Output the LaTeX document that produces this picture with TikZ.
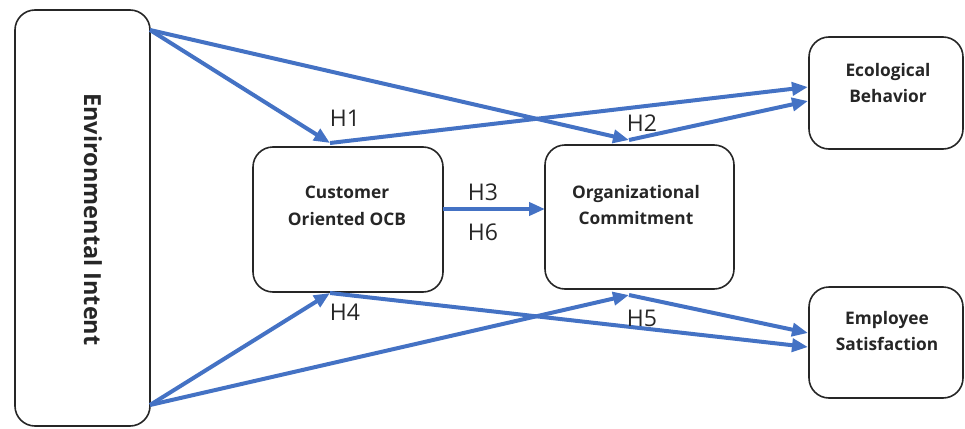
\documentclass[tikz,border=0pt]{standalone}
\usepackage{fontspec}
\setmainfont{Open Sans}
\usetikzlibrary{arrows.meta}
\definecolor{arrowblue}{RGB}{68,114,196}
\definecolor{boxline}{RGB}{38,38,38}
\begin{document}
\begin{tikzpicture}[x=1pt,y=-1pt,
  box/.style={draw=boxline,line width=1.6pt,rounded corners=20pt,fill=white,inner sep=0pt},
  boxtext/.style={font=\fontsize{17.3}{26.5}\selectfont\bfseries,align=center,inner sep=0pt,text=black!85},
  hyp/.style={font=\fontsize{23}{24}\selectfont,inner sep=0pt,text=black!85},
  link/.style={draw=arrowblue,line width=4pt,-{Triangle[length=16pt,width=13pt]}}]
\useasboundingbox (0,0) rectangle (965,428);
% boxes
\node[box,minimum width=135pt,minimum height=416pt] (ei) at (82.5,218) {};
\node[box,minimum width=190pt,minimum height=145pt] (ocb) at (348,219.5) {};
\node[box,minimum width=189pt,minimum height=144pt] (oc) at (639.5,217) {};
\node[box,minimum width=154pt,minimum height=112pt] (eb) at (886,93) {};
\node[box,minimum width=154pt,minimum height=111pt] (es) at (886,342.5) {};
% texts
\node[font=\fontsize{23.5}{26}\selectfont\bfseries,rotate=-90,inner sep=0pt,text=black!85] (eit) at (93,219.5) {Environmental Intent};
\node[boxtext] (ocbt) at (347,206) {Customer\\Oriented OCB};
\node[boxtext] (oct) at (636,205) {Organizational\\Commitment};
\node[boxtext] (ebt) at (888,83) {Ecological\\Behavior};
\node[boxtext] (est) at (887,331) {Employee\\Satisfaction};
% ports
\coordinate (eiT) at (150,30);
\coordinate (eiB) at (150,405);
\coordinate (ocbT) at (330,143);
\coordinate (ocbB) at (330,293);
\coordinate (ocbR) at (443,209);
\coordinate (ocT) at (629,140);
\coordinate (ocB) at (629,295);
\coordinate (ocL) at (545,209);
\coordinate (ebA) at (808,87);
\coordinate (ebB) at (808,101);
\coordinate (esA) at (808,333);
\coordinate (esB) at (808,347);
% arrows
\draw[link] (eiT) -- (ocbT);
\draw[link] (eiT) -- (ocT);
\draw[link] (ocbT) -- (ebA);
\draw[link] (ocT) -- (ebB);
\draw[link] (ocbR) -- (ocL);
\draw[link] (eiB) -- (ocbB);
\draw[link] (eiB) -- (ocB);
\draw[link] (ocbB) -- (esB);
\draw[link] (ocB) -- (esA);
% labels
\node[hyp] (h1) at (345,118) {H1};
\node[hyp] (h2) at (642,123) {H2};
\node[hyp] (h3) at (483,192) {H3};
\node[hyp] (h6) at (483,232) {H6};
\node[hyp] (h4) at (345,312) {H4};
\node[hyp] (h5) at (642,318) {H5};
\end{tikzpicture}
\end{document}
